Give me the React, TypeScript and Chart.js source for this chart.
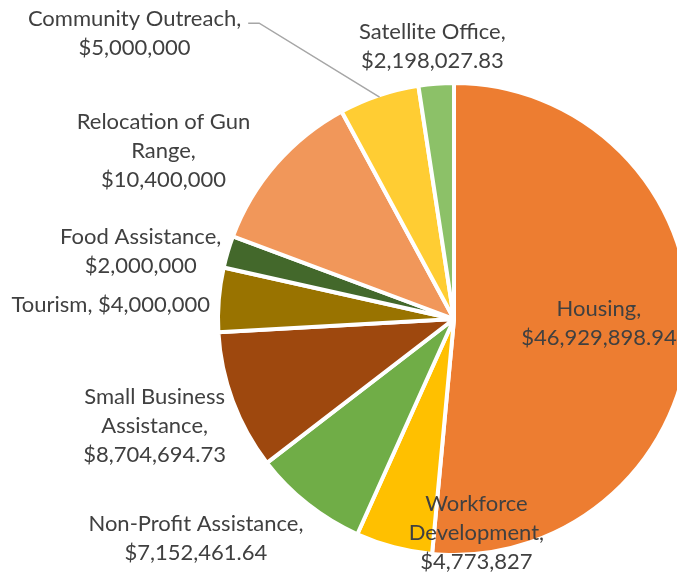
import React, { useEffect, useRef } from "react";
import { Chart, registerables } from "chart.js";

Chart.register(...registerables);

// ---- data ----
const categories = [
  "Housing",
  "Workforce Development",
  "Non-Profit Assistance",
  "Small Business Assistance",
  "Tourism",
  "Food Assistance",
  "Relocation of Gun Range",
  "Community Outreach",
  "Satellite Office",
];
const amounts = [
  46929898.94, 4773827, 7152461.64, 8704694.73, 4000000, 2000000, 10400000, 5000000, 2198027.83,
];

// ---- styles ----
const sliceColors = [
  "#ED7D31",
  "#FFC000",
  "#70AD47",
  "#9E480E",
  "#997300",
  "#43682B",
  "#F1975A",
  "#FFCD33",
  "#8CC168",
];

// label placement relative to slice mid-angle point at k * radius
const labelPlacement = [
  { k: 0.62, dx: 0, dy: -2, wrap: 170, leader: false },
  { k: 1, dx: 82, dy: -12, wrap: 150, leader: false },
  { k: 1, dx: -113, dy: 36, wrap: 235, leader: false },
  { k: 1, dx: -80, dy: 25, wrap: 155, leader: false },
  { k: 1, dx: -110, dy: 5, wrap: 235, leader: false },
  { k: 1, dx: -89, dy: -1, wrap: 185, leader: false },
  { k: 1, dx: -114, dy: -14, wrap: 185, leader: false },
  { k: 1, dx: -245, dy: -64, wrap: 235, leader: true },
  { k: 1, dx: -4, dy: -39, wrap: 175, leader: false },
];

const FONT_SIZE = 22;
const FONT = `${FONT_SIZE}px Lato, "Open Sans", sans-serif`;
const LINE_H = 29;
const TEXT_COLOR = "#404040";
const BORDER_W = 4;

const fmt = (v: number) =>
  "$" +
  v.toLocaleString("en-US", {
    minimumFractionDigits: Number.isInteger(v) ? 0 : 2,
    maximumFractionDigits: 2,
  });

function wrapText(ctx: CanvasRenderingContext2D, text: string, maxW: number): string[] {
  const words = text.split(" ");
  const lines: string[] = [];
  let cur = "";
  for (const w of words) {
    const test = cur ? cur + " " + w : w;
    if (cur && ctx.measureText(test).width > maxW) {
      lines.push(cur);
      cur = w;
    } else {
      cur = test;
    }
  }
  if (cur) lines.push(cur);
  return lines;
}

const labelPlugin = {
  id: "sliceLabels",
  afterDatasetsDraw(chart: any) {
    const ctx: CanvasRenderingContext2D = chart.ctx;
    const meta = chart.getDatasetMeta(0);
    ctx.save();
    ctx.font = FONT;
    ctx.fillStyle = TEXT_COLOR;
    ctx.textAlign = "center";
    ctx.textBaseline = "middle";
    meta.data.forEach((arc: any, i: number) => {
      const { x, y, startAngle, endAngle, outerRadius } = arc.getProps(
        ["x", "y", "startAngle", "endAngle", "outerRadius"],
        true
      );
      const mid = (startAngle + endAngle) / 2;
      const R = outerRadius - BORDER_W / 2;
      const p = labelPlacement[i];
      const ex = x + Math.cos(mid) * R;
      const ey = y + Math.sin(mid) * R;
      const ax = x + Math.cos(mid) * R * p.k + p.dx;
      const ay = y + Math.sin(mid) * R * p.k + p.dy;
      const text = `${categories[i]}, ${fmt(amounts[i])}`;
      const lines = wrapText(ctx, text, p.wrap);
      const top = ay - ((lines.length - 1) * LINE_H) / 2;
      let maxW = 0;
      lines.forEach((l, j) => {
        ctx.fillText(l, ax, top + j * LINE_H);
        maxW = Math.max(maxW, ctx.measureText(l).width);
      });
      if (p.leader) {
        const sx = ax + maxW / 2 + 7;
        const sy = top + 4.5;
        ctx.beginPath();
        ctx.strokeStyle = "#A6A6A6";
        ctx.lineWidth = 1.5;
        ctx.moveTo(sx, sy);
        ctx.lineTo(sx + 11, sy);
        ctx.lineTo(ex, ey);
        ctx.stroke();
      }
    });
    ctx.restore();
  },
};

export default function App() {
  const ref = useRef<HTMLCanvasElement | null>(null);
  useEffect(() => {
    if (!ref.current) return;
    const chart = new Chart(ref.current, {
      type: "pie",
      data: {
        labels: categories,
        datasets: [
          {
            data: amounts,
            backgroundColor: sliceColors,
            borderColor: "#FFFFFF",
            borderWidth: BORDER_W,
          },
        ],
      },
      options: {
        responsive: false,
        animation: false,
        radius: 236,
        layout: { padding: { top: 83, bottom: 18, left: 0, right: 0 } },
        plugins: {
          legend: { display: false },
          tooltip: { enabled: false },
        },
      } as any,
      plugins: [labelPlugin],
    });
    return () => chart.destroy();
  }, []);
  return (
    <div
      style={{
        position: "fixed",
        left: 0,
        top: 0,
        width: 677,
        height: 573,
        overflow: "hidden",
        background: "#FFFFFF",
      }}
    >
      <canvas ref={ref} width={908} height={573} style={{ display: "block" }} />
    </div>
  );
}
